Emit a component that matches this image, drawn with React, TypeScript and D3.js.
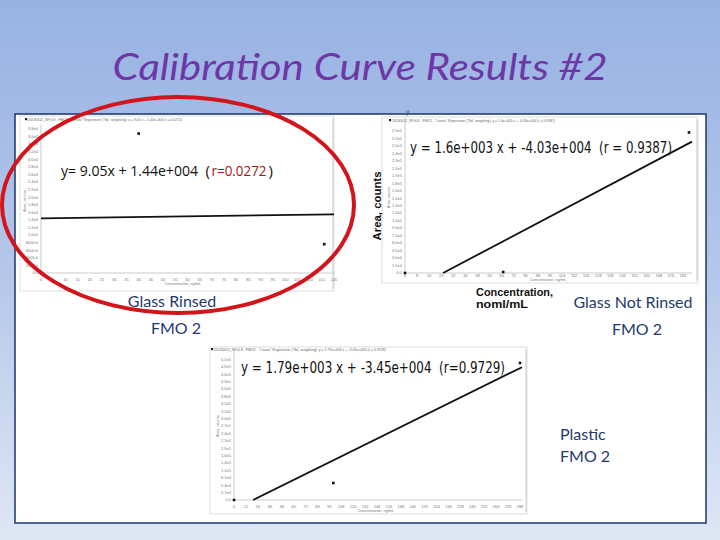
import React from 'react';
import * as d3 from 'd3';

// ---------- text ----------
const TITLE = 'Calibration Curve Results #2';

// ---------- Glass Rinsed FMO 2 ----------
const rinsedConc = [0, 40, 116];
const rinsedArea = [0, 36800, 7600];
const rinsedFit = [9.05, 14400]; // slope, intercept
const rinsedXTicks = [0, 5, 10, 15, 20, 25, 30, 35, 40, 45, 50, 55, 60, 65, 70, 75, 80, 85, 90, 95, 100, 105, 110, 115, 120];
const rinsedYTicks = [0, 2000, 4000, 6000, 8000, 10000, 12000, 14000, 16000, 18000, 20000, 22000, 24000, 26000, 28000, 30000, 32000, 34000, 36000, 38000];

// ---------- Glass Not Rinsed FMO 2 ----------
const notRinsedConc = [0, 65, 188];
const notRinsedArea = [0, 2000, 282000];
const notRinsedFit = [1600, -40300];
const notRinsedXTicks = [0, 8, 16, 24, 32, 40, 48, 56, 64, 72, 80, 88, 96, 104, 112, 120, 128, 136, 144, 152, 160, 168, 176, 184];
const notRinsedYTicks = [0, 15000, 30000, 45000, 60000, 75000, 90000, 105000, 120000, 135000, 150000, 165000, 180000, 195000, 210000, 225000, 240000, 255000, 270000, 285000];

// ---------- Plastic FMO 2 ----------
const plasticConc = [0, 100, 288];
const plasticArea = [0, 62000, 500000];
const plasticFit = [1790, -34500];
const plasticXTicks = [0, 12, 24, 36, 48, 60, 72, 84, 96, 108, 120, 132, 144, 156, 168, 180, 192, 204, 216, 228, 240, 252, 264, 276, 288];
const plasticYTicks = [0, 27000, 54000, 81000, 108000, 135000, 162000, 189000, 216000, 243000, 270000, 297000, 324000, 351000, 378000, 405000, 432000, 459000, 486000, 513000];

const fmtY = (v: number) => {
  if (v === 0) return '0.0';
  if (v < 10000) return v.toFixed(1);
  const e = Math.floor(Math.log10(v));
  return (v / Math.pow(10, e)).toFixed(1) + 'e' + e;
};

type Cfg = {
  box: [number, number, number, number];
  plot: { l: number; r: number; t: number; b: number };
  xMax: number; yMin: number; yMax: number;
  conc: number[]; area: number[]; fit: number[];
  xTicks: number[]; yTicks: number[];
  header: string; headerY: number; headerX: number; headerW: number;
  xTitleX: number; xTitleY: number; xLabelY: number;
};

const charts: Cfg[] = [
  {
    box: [20, 116, 314, 175], plot: { l: 41, r: 334, t: 129, b: 273 },
    xMax: 120, yMin: 0, yMax: 38000,
    conc: rinsedConc, area: rinsedArea, fit: rinsedFit,
    xTicks: rinsedXTicks, yTicks: rinsedYTicks,
    header: '20130612_SPr4.8 - FMO2 - "Linear" Regression ("No" weighting): y = 9.05 x + 1.44e+004 (r = 0.0272)',
    headerX: 28, headerY: 120.5, headerW: 154,
    xTitleX: 183, xTitleY: 285, xLabelY: 281,
  },
  {
    box: [382, 117, 316, 166], plot: { l: 405, r: 692, t: 122, b: 273 },
    xMax: 190, yMin: 0, yMax: 303000,
    conc: notRinsedConc, area: notRinsedArea, fit: notRinsedFit,
    xTicks: notRinsedXTicks, yTicks: notRinsedYTicks,
    header: '20130612_SPr4.8 - FMO2 - "Linear" Regression ("No" weighting): y = 1.6e+003 x + -4.03e+004 (r = 0.9387)',
    headerX: 392, headerY: 121.5, headerW: 163,
    xTitleX: 548, xTitleY: 281, xLabelY: 277,
  },
  {
    box: [210, 347, 317, 167], plot: { l: 234, r: 522, t: 352, b: 500 },
    xMax: 290, yMin: 0, yMax: 540000,
    conc: plasticConc, area: plasticArea, fit: plasticFit,
    xTicks: plasticXTicks, yTicks: plasticYTicks,
    header: '20130612_SPr4.8 - FMO2 - "Linear" Regression ("No" weighting): y = 1.79e+003 x + -3.45e+004 (r = 0.9729)',
    headerX: 214, headerY: 350.5, headerW: 172,
    xTitleX: 376, xTitleY: 512, xLabelY: 508,
  },
];

function Shot({ c }: { c: Cfg }) {
  const x = d3.scaleLinear().domain([0, c.xMax]).range([c.plot.l, c.plot.r]);
  const y = d3.scaleLinear().domain([c.yMin, c.yMax]).range([c.plot.b, c.plot.t]);
  const [m, b0] = c.fit;
  let x0 = 0;
  if (m * 0 + b0 < 0) x0 = -b0 / m;
  const fitPts: [number, number][] = [[x0, m * x0 + b0], [c.xMax, m * c.xMax + b0]];
  const line = d3.line<[number, number]>().x(d => x(d[0])).y(d => y(d[1]));
  const [bx, by, bw, bh] = c.box;
  return (
    <g>
      <rect x={bx} y={by} width={bw} height={bh} fill="#fff" stroke="#d6d6d6" strokeWidth={0.8} />
      <rect x={c.headerX - 3} y={c.headerY - 2.5} width={2.2} height={2.2} fill="#222" />
      <text x={c.headerX} y={c.headerY} fontSize={3.6} fill="#666" fontFamily="Liberation Sans" textLength={c.headerW} lengthAdjust="spacingAndGlyphs">{c.header}</text>
      <line x1={c.plot.l} x2={c.plot.l} y1={c.plot.t - 4} y2={c.plot.b} stroke="#aaa" strokeWidth={0.6} />
      <line x1={c.plot.l} x2={c.plot.r} y1={c.plot.b} y2={c.plot.b} stroke="#aaa" strokeWidth={0.6} />
      <line x1={bx + bw - 1} x2={bx + bw - 1} y1={by + 2} y2={by + bh - 2} stroke="#bbb" strokeWidth={0.8} />
      {c.yTicks.map(t => (
        <text key={'y' + t} x={c.plot.l - 3} y={y(t) + 1.3} fontSize={4} fill="#777" textAnchor="end" fontFamily="Liberation Sans">{fmtY(t)}</text>
      ))}
      {c.xTicks.map(t => (
        <text key={'x' + t} x={x(t)} y={c.xLabelY} fontSize={4} fill="#777" textAnchor="middle" fontFamily="Liberation Sans">{t}</text>
      ))}
      <text x={c.xTitleX} y={c.xTitleY} fontSize={3.8} fill="#777" textAnchor="middle" fontFamily="Liberation Sans">Concentration, ng/mL</text>
      <text transform={`translate(${c.plot.l - 15},${(c.plot.t + c.plot.b) / 2}) rotate(-90)`} fontSize={3.8} fill="#777" textAnchor="middle" fontFamily="Liberation Sans">Area, counts</text>
      <path d={line(fitPts) || ''} stroke="#111" strokeWidth={1.8} fill="none" />
      {c.conc.map((cv, i) => (
        <rect key={'p' + i} x={x(cv) - 1.3} y={y(c.area[i]) - 1.3} width={2.6} height={2.6} fill="#111" />
      ))}
    </g>
  );
}

export default function App() {
  const labelFont = 'Lato, "Open Sans", sans-serif';
  const navy = '#1f3a6e';
  const eqFont = '"Open Sans", sans-serif';
  const condFont = '"DejaVu Sans", sans-serif';
  return (
    <div style={{ position: 'absolute', left: 0, top: 0, width: 720, height: 540 }}>
      <svg width={720} height={540} viewBox="0 0 720 540" style={{ display: 'block' }}>
        <defs>
          <linearGradient id="bg" x1="0" y1="0" x2="0" y2="1">
            <stop offset="0" stopColor="#97b2e2" />
            <stop offset="0.5" stopColor="#b4c7ea" />
            <stop offset="1" stopColor="#dfe7f5" />
          </linearGradient>
        </defs>
        <rect x={0} y={0} width={720} height={540} fill="url(#bg)" />
        <text x={360} y={80} textAnchor="middle" fontSize={37} fontStyle="italic" fill="#6d37a6" fontFamily={labelFont} textLength={495} lengthAdjust="spacingAndGlyphs">{TITLE}</text>
        <rect x={15} y={114} width={691} height={409} fill="#fff" stroke="#1c3566" strokeWidth={1.5} />

        {charts.map((c, i) => <Shot key={i} c={c} />)}

        {/* equations */}
        <text x={61} y={176} fontSize={15} fill="#111" fontFamily={eqFont} textLength={137} lengthAdjust="spacingAndGlyphs">y= 9.05x + 1.44e+004</text>
        <text x={205.5} y={176} fontSize={15} fill="#111" fontFamily={eqFont}>(</text>
        <text x={211.5} y={176} fontSize={15} fill="#a3151b" fontFamily={eqFont} textLength={55} lengthAdjust="spacingAndGlyphs">r=0.0272</text>
        <text x={268.5} y={176} fontSize={15} fill="#111" fontFamily={eqFont}>)</text>
        <text x={410} y={153} fontSize={16} fill="#111" fontFamily={condFont} textLength={262} lengthAdjust="spacingAndGlyphs">{'y = 1.6e+003 x + -4.03e+004\u00a0\u00a0(r = 0.9387)'}</text>
        <text x={241} y={373} fontSize={16} fill="#111" fontFamily={condFont} textLength={264} lengthAdjust="spacingAndGlyphs">{'y = 1.79e+003 x + -3.45e+004\u00a0\u00a0(r=0.9729)'}</text>

        {/* outer labels */}
        <text x={406} y={114} fontSize={7} fill="#3355aa" fontFamily="Liberation Sans">y</text>
        <text transform="translate(381,206) rotate(-90)" textAnchor="middle" fontSize={11} fontWeight="bold" fill="#111" fontFamily='"Liberation Sans", Arial, sans-serif' textLength={69} lengthAdjust="spacingAndGlyphs">Area, counts</text>
        <text x={476} y={296} fontSize={11} fontWeight="bold" fill="#111" fontFamily='"Liberation Sans", Arial, sans-serif' textLength={77} lengthAdjust="spacingAndGlyphs">Concentration,</text>
        <text x={476} y={308} fontSize={11} fontWeight="bold" fill="#111" fontFamily='"Liberation Sans", Arial, sans-serif' textLength={52} lengthAdjust="spacingAndGlyphs">noml/mL</text>

        <text x={172} y={307} textAnchor="middle" fontSize={16} fill={navy} fontFamily={labelFont}>Glass Rinsed</text>
        <text x={176} y={334} textAnchor="middle" fontSize={16} fill={navy} fontFamily={labelFont}>FMO 2</text>
        <text x={633} y={308} textAnchor="middle" fontSize={16} fill={navy} fontFamily={labelFont}>Glass Not Rinsed</text>
        <text x={637} y={335} textAnchor="middle" fontSize={16} fill={navy} fontFamily={labelFont}>FMO 2</text>
        <text x={560} y={440} fontSize={16} fill={navy} fontFamily={labelFont}>Plastic</text>
        <text x={560} y={462} fontSize={16} fill={navy} fontFamily={labelFont}>FMO 2</text>

        <ellipse cx={178} cy={205} rx={176} ry={108} fill="none" stroke="#d3141c" strokeWidth={4} />
      </svg>
    </div>
  );
}
